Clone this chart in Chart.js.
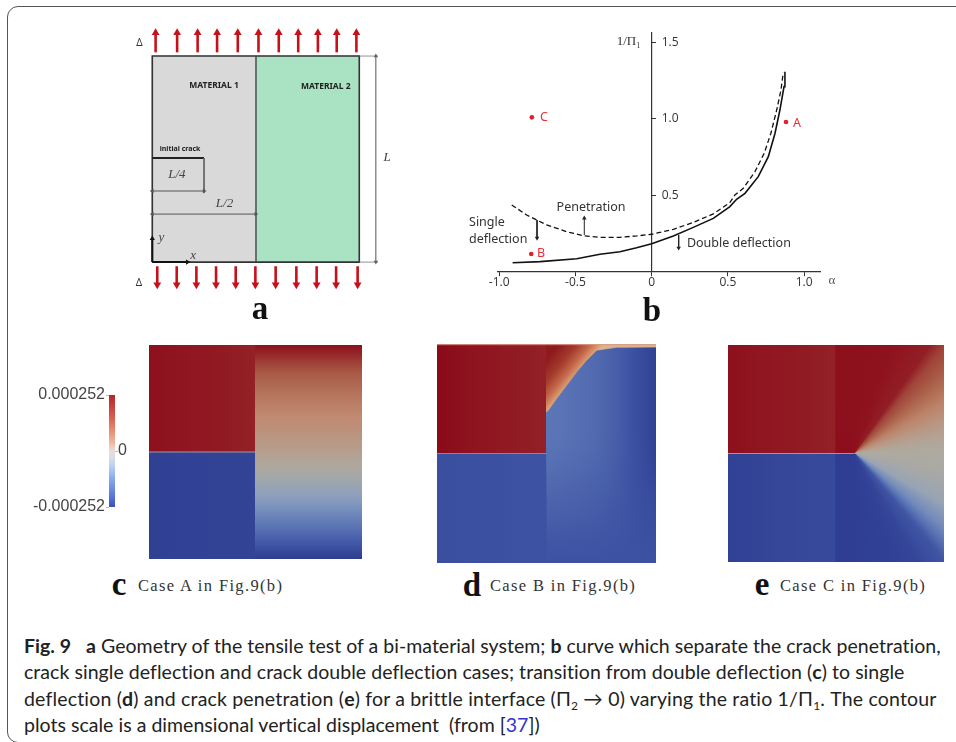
<!DOCTYPE html>
<html>
<head>
<meta charset="utf-8">
<title>Fig. 9</title>
<script src="https://cdn.jsdelivr.net/npm/chart.js@4"></script>
<style>
  html, body { margin: 0; padding: 0; background: #fff; }
  #page { position: relative; width: 956px; height: 742px; overflow: hidden; }
  #frame { position: absolute; left: 7px; top: 6px; width: 1000px; height: 735px; border: 1px solid #555; border-radius: 11px; }
  canvas { position: absolute; filter: blur(0.4px); }
  .letter { position: absolute; font: bold 33px "Liberation Serif", serif; color: #111; transform: translate(-50%, -50%); line-height: 1; }
  .case { position: absolute; font: 16.5px "Liberation Serif", serif; letter-spacing: 1.35px; color: #333; transform: translateY(-50%); white-space: nowrap; }
  .line { position: absolute; left: 24px; font: 19.5px Lato, sans-serif; color: #222; white-space: nowrap; transform: translateY(-50%); }
  .line sub { font-size: 12px; line-height: 0; }
  .link { color: #3434d0; }
</style>
</head>
<body>
<div id="page">
  <div id="frame"></div>

  <canvas id="geometry" style="left:120px;top:20px" width="290" height="280"></canvas>
  <canvas id="boundary" style="left:440px;top:20px" width="420" height="280"></canvas>
  <canvas id="colorbar" style="left:20px;top:380px" width="120" height="145"></canvas>
  <canvas id="caseA" style="left:149px;top:345px" width="213" height="214"></canvas>
  <canvas id="caseB" style="left:437px;top:344px" width="219" height="219"></canvas>
  <canvas id="caseC" style="left:728px;top:345px" width="216" height="217"></canvas>

  <div class="letter" style="left:260px;top:308px">a</div>
  <div class="letter" style="left:652px;top:310px">b</div>
  <div class="letter" style="left:119px;top:584px">c</div>
  <div class="case" style="left:138px;top:586px">Case A in Fig.9(b)</div>
  <div class="letter" style="left:472px;top:585px">d</div>
  <div class="case" style="left:490px;top:586px">Case B in Fig.9(b)</div>
  <div class="letter" style="left:762px;top:584px">e</div>
  <div class="case" style="left:780px;top:586px">Case C in Fig.9(b)</div>

  <div class="line" style="top:645px"><b>Fig. 9</b>&nbsp;&nbsp; <b>a</b> Geometry of the tensile test of a bi-material system; <b>b</b> curve which separate the crack penetration,</div>
  <div class="line" style="top:671px">crack single deflection and crack double deflection cases; transition from double deflection (<b>c</b>) to single</div>
  <div class="line" style="top:698px">deflection (<b>d</b>) and crack penetration (<b>e</b>) for a brittle interface (Π<sub>2</sub> → 0) varying the ratio 1/Π<sub>1</sub>. The contour</div>
  <div class="line" style="top:724px">plots scale is a dimensional vertical displacement &nbsp;(from [<span class="link">37</span>])</div>
</div>

<script>
// panel b: curves
const solidAlpha = [-.912, -.732, -.492, -.339, -.208, -.099, 0, .142, .273, .404, .513, .557, .612, .699, .765, .809, .841, .868, .874];
const solidPi = [.059, .066, .085, .114, .131, .157, .183, .234, .290, .349, .426, .474, .513, .622, .753, .906, 1.058, 1.211, 1.309];
const dashedAlpha = [-.918, -.820, -.689, -.558, -.448, -.339, -.208, -.099, 0, .142, .273, .404, .513, .546, .601, .677, .738, .782, .82, .848, .863];
const dashedPi = [.437, .371, .306, .262, .236, .225, .225, .234, .245, .277, .323, .378, .452, .502, .546, .654, .775, .906, 1.058, 1.189, 1.303];
const caseAlpha = [.881, -.79, -.786];
const casePi = [.98, .116, 1.01];
const alphaTicks = [-1, -.5, 0, .5, 1];
const piTicks = [.5, 1, 1.5];

// panel a: load arrows, in units of L
const topArrowX = [.016, .12, .219, .313, .413, .513, .611, .705, .8, .891, .986];
const bottomArrowX = [.024, .118, .213, .308, .403, .498, .596, .696, .794, .888, .992];

// colour bar
const barTicks = [-0.000252, 0.000252];
const barZeroTick = [0];
const barLevels = [1, .86, .72, .58, .44, .3, .16, .02, -.12, -.26, -.4, -.54, -.68, -.82, -1];

// contour fields, values scaled to the colour bar (-1 to 1)
const caseATopLeft = [.98, .97, .96, .95, .95, .94, .93, .92];
const caseABottomLeft = [-.96, -.96, -.95, -.95, -.94, -.94, -.94, -.93];
const caseARight = [.98, .9, .8, .72, .64, .57, .5, .44, .38, .32, .25, .18, .1, .02, -.07, -.16, -.26, -.36, -.46, -.56, -.66, -.77, -.88, -.98];

const caseBTopLeft = [1, .99, .97, .96, .95, .94, .93, .92];
const caseBBottomLeft = [-.86, -.86, -.85, -.85, -.85, -.84, -.84, -.84];
const caseBRightAcross = [-.6, -.61, -.63, -.65, -.68, -.72, -.77, -.84, -.9, -.95];
const caseBBottomLevel = -.84;
const caseBBottomShare = [0, 0, 0, 0, 0, 0, .05, .15, .3, .45, .6, .75, .9, 1];
const wedgeX = [.5, .508, .546, .592, .638, .683, .729, .82, 1, 1, .5];
const wedgeY = [.69, .698, .751, .812, .873, .926, .972, .985, .986, 1, 1];
const wedgeOffsets = [0, .08, .3, .6, 1];
const wedgeColors = ['#d9b58c', '#dc9e72', '#c4684a', '#a33a2c', '#8f1a1e'];

const caseCTopLeft = [.98, .97, .96, .95, .95, .94, .93, .92];
const caseCBottomLeft = [-.95, -.94, -.93, -.92, -.91, -.9, -.9, -.9];
const fanTip = [.587, .502];
// degrees clockwise from the crack direction behind the tip, with the level seen along that bearing
const fanBearing = [0, 90, 110, 125, 130, 140, 150, 160, 170, 180, 190, 200, 210, 220, 225, 230, 240, 250, 270, 360];
const fanLevels = [.99, .98, .97, .93, .8, .65, .45, .25, .08, 0, -.03, -.1, -.2, -.45, -.62, -.82, -.92, -.95, -.97, -.98];

// colours
const fieldStops = [[-1, '#2c3a8e'], [-.85, '#3c50a2'], [-.6, '#5b76b6'], [-.3, '#8ba0c0'], [0, '#aeaaa0'], [.4, '#c08a70'], [.72, '#a85a45'], [1, '#8b0a1a']];
const barStops = [[-1, '#3b4cc0'], [-.5, '#7fa5ec'], [-.2, '#c5d8f5'], [0, '#e8e4e0'], [.2, '#f0b090'], [.6, '#d9604f'], [1, '#b5242c']];

function mixRgb(stops, v) {
  let i = 1;
  while (i < stops.length - 1 && v > stops[i][0]) i++;
  const [v0, c0] = stops[i - 1], [v1, c1] = stops[i];
  const t = Math.min(1, Math.max(0, (v - v0) / (v1 - v0)));
  const ch = (c, n) => parseInt(c.substr(1 + n * 2, 2), 16);
  return [0, 1, 2].map(n => Math.round(ch(c0, n) + (ch(c1, n) - ch(c0, n)) * t));
}

function mix(stops, v, alpha) {
  const rgb = mixRgb(stops, v);
  return alpha === undefined ? `rgb(${rgb.join(',')})` : `rgba(${rgb.join(',')},${alpha})`;
}

function zip(xs, ys) {
  return xs.map((x, i) => ({ x: x, y: ys[i] }));
}

// gradient between two points given in the 0-1 units of a contour canvas
function sweep(id, x0, y0, x1, y1, offsets, colors) {
  const c = document.getElementById(id);
  const g = c.getContext('2d').createLinearGradient(x0 * c.width, (1 - y0) * c.height, x1 * c.width, (1 - y1) * c.height);
  colors.forEach((col, i) => g.addColorStop(offsets[i], col));
  return g;
}

function evenly(list) {
  return list.map((v, i) => i / (list.length - 1));
}

// filled polygon as a closed line dataset
function polygon(points, color) {
  return {
    data: points.concat([points[0]]),
    showLine: true, fill: 'shape', tension: 0, pointRadius: 0,
    backgroundColor: color, borderColor: color, borderWidth: 0.7
  };
}

function cell(x0, x1, y0, y1, color) {
  return polygon(zip([x0, x1, x1, x0], [y0, y0, y1, y1]), color);
}

function line(xs, ys, color, width, dash) {
  return {
    data: zip(xs, ys), showLine: true, fill: false, tension: 0, pointRadius: 0,
    borderColor: color, borderWidth: width, borderDash: dash || []
  };
}

// stem with a triangle at each end that has a size in heads
function arrow(xs, ys, color, width, heads, turns) {
  return {
    data: zip(xs, ys), showLine: true, fill: false, tension: 0,
    borderColor: color, borderWidth: width,
    pointStyle: 'triangle', pointRadius: heads, pointRotation: turns,
    pointBackgroundColor: color, pointBorderWidth: 0, pointBorderColor: color
  };
}

function inOrder(datasets) {
  // later datasets paint on top
  datasets.forEach((d, i) => { d.order = -i; });
  return datasets;
}

function textPlugin(items) {
  return {
    id: 'textMarks',
    afterDatasetsDraw(chart) {
      const ctx = chart.ctx;
      ctx.save();
      ctx.textBaseline = 'middle';
      items.forEach(t => {
        ctx.font = t.font;
        ctx.fillStyle = t.color || '#333';
        ctx.textAlign = t.align || 'center';
        ctx.fillText(t.text, chart.scales.x.getPixelForValue(t.x), chart.scales.y.getPixelForValue(t.y));
      });
      ctx.restore();
    }
  };
}

function hiddenAxis(min, max) {
  return { type: 'linear', display: false, min: min, max: max };
}

function plainChart(id, datasets, scales, plugins) {
  return new Chart(document.getElementById(id), {
    type: 'scatter',
    data: { datasets: inOrder(datasets) },
    options: {
      responsive: false, animation: false,
      layout: { padding: 0, autoPadding: false },
      plugins: { legend: { display: false }, tooltip: { enabled: false } },
      scales: scales
    },
    plugins: plugins || []
  });
}

// ----- panel a
const sans = '"Noto Sans", sans-serif';
const serifItalic = 'italic 13px "Liberation Serif", serif';
const geometryText = [
  { text: 'MATERIAL 1', x: .298, y: .859, font: 'bold 8.5px ' + sans, color: '#222' },
  { text: 'MATERIAL 2', x: .838, y: .854, font: 'bold 8.5px ' + sans, color: '#222' },
  { text: 'initial crack', x: .134, y: .549, font: 'bold 7px ' + sans, color: '#222' },
  { text: 'L/4', x: .119, y: .427, font: serifItalic, color: '#444' },
  { text: 'L/2', x: .349, y: .286, font: serifItalic, color: '#444' },
  { text: 'L', x: 1.134, y: .505, font: serifItalic, color: '#444' },
  { text: 'y', x: .044, y: .117, font: serifItalic, color: '#444' },
  { text: 'x', x: .197, y: .034, font: serifItalic, color: '#444' },
  { text: 'Δ', x: -.062, y: 1.063, font: '10px ' + sans, color: '#333' },
  { text: 'Δ', x: -.064, y: -.102, font: '10px ' + sans, color: '#333' }
];
const red = '#c8101a', dim = '#555';
const geometrySets = [
  cell(0, .501, 0, 1, '#d9d9d9'),
  cell(.501, 1, 0, 1, '#aae3c3'),
  line([0, 1, 1, 0, 0], [0, 0, 1, 1, 0], '#333', 1.6),
  line([.501, .501], [0, 1], '#444', 1.4),
  line([0, .25], [.505, .505], '#222', 2),
  line([.25, .25], [.505, .335], '#666', 1),
  arrow([0, .25], [.345, .345], dim, 1, [2.5, 2.5], [270, 90]),
  arrow([0, .5], [.233, .233], dim, 1, [2.5, 2.5], [270, 90]),
  arrow([1.08, 1.08], [0, 1], dim, 1, [2.5, 2.5], [180, 0]),
  line([1, 1.09], [1, 1], '#777', .8),
  line([1, 1.09], [0, 0], '#777', .8),
  arrow([0, .17], [0, 0], '#111', 2, [0, 3], [0, 90]),
  arrow([0, 0], [0, .115], '#111', 2, [0, 3], [0, 0])
];
topArrowX.forEach(x => geometrySets.push(arrow([x, x], [1.018, 1.113], red, 2.6, [0, 4.5], [0, 0])));
bottomArrowX.forEach(x => geometrySets.push(arrow([x, x], [-.02, -.11], red, 2.6, [0, 4.5], [0, 180])));
plainChart('geometry', geometrySets,
  { x: hiddenAxis(-.156, 1.245), y: hiddenAxis(-.184, 1.175) },
  [textPlugin(geometryText)]);

// ----- panel b
const boundaryText = [
  { text: 'Penetration', x: -.398, y: .421, font: '12.5px ' + sans },
  { text: 'Single', x: -1.198, y: .325, font: '12.5px ' + sans, align: 'left' },
  { text: 'deflection', x: -1.198, y: .214, font: '12.5px ' + sans, align: 'left' },
  { text: 'Double deflection', x: .231, y: .188, font: '12.5px ' + sans, align: 'left' },
  { text: 'C', x: -.706, y: 1.012, font: '12.5px ' + sans, color: '#e8303a' },
  { text: 'A', x: .953, y: .967, font: '12.5px ' + sans, color: '#e8303a' },
  { text: 'B', x: -.726, y: .122, font: '12.5px ' + sans, color: '#e8303a' },
  { text: '1/Π₁', x: -.151, y: 1.505, font: '13px "Liberation Serif", serif' },
  { text: 'α', x: 1.182, y: -.061, font: '13px "Liberation Serif", serif', color: '#555' }
];
// the axis can only put its labels left of a centred spine, these sit on the right
piTicks.forEach(v => boundaryText.push({ text: v.toFixed(1), x: .066, y: v, font: '12px "Open Sans"', align: 'left' }));
new Chart(document.getElementById('boundary'), {
  type: 'scatter',
  data: {
    datasets: inOrder([
      line(solidAlpha, solidPi, '#111', 1.6),
      line(dashedAlpha, dashedPi, '#111', 1.3, [5, 3]),
      arrow([-.752, -.752], [.338, .22], '#222', 1, [0, 2.6], [0, 180]),
      arrow([-.442, -.442], [.24, .35], '#222', 1, [0, 2.6], [0, 0]),
      arrow([.177, .177], [.24, .155], '#222', 1, [0, 2.6], [0, 180]),
      { data: zip(caseAlpha, casePi), pointRadius: 2.3, pointBackgroundColor: '#e0202c', pointBorderWidth: 0 }
    ])
  },
  options: {
    responsive: false, animation: false,
    layout: { padding: { left: 58, right: 40, top: 12.7, bottom: 28.3 }, autoPadding: false },
    plugins: { legend: { display: false }, tooltip: { enabled: false } },
    scales: {
      x: {
        type: 'linear', min: -1.008, max: 1.104, position: { y: 0 },
        afterFit: s => { s.height = 0; },
        afterBuildTicks: s => { s.ticks = alphaTicks.map(v => ({ value: v })); },
        grid: { drawOnChartArea: false, tickLength: 4, color: '#333' },
        border: { color: '#333', width: 1.2 },
        ticks: {
          autoSkip: false, maxRotation: 0, padding: 0, color: '#333',
          font: { family: 'Open Sans', size: 12 },
          callback: v => v === 0 ? '0' : v.toFixed(1)
        }
      },
      y: {
        type: 'linear', min: 0, max: 1.564, position: { x: 0 },
        afterFit: s => { s.width = 0; },
        afterBuildTicks: s => { s.ticks = piTicks.map(v => ({ value: v })); },
        grid: { drawOnChartArea: false, tickLength: -5, color: '#333' },
        border: { color: '#333', width: 1.2 },
        ticks: { callback: () => '' }
      }
    }
  },
  plugins: [textPlugin(boundaryText)]
});

// ----- colour bar
const barCtx = document.getElementById('colorbar').getContext('2d');
const barFill = barCtx.createLinearGradient(0, 15, 0, 127);
barLevels.forEach((v, i) => barFill.addColorStop(i / (barLevels.length - 1), mix(barStops, v)));
const barTickFont = { family: 'Liberation Sans', size: 16 };
new Chart(document.getElementById('colorbar'), {
  type: 'scatter',
  data: { datasets: [cell(0, 1, -0.000252, 0.000252, barFill)] },
  options: {
    responsive: false, animation: false,
    layout: { padding: { top: 15, bottom: 18 }, autoPadding: false },
    plugins: { legend: { display: false }, tooltip: { enabled: false } },
    scales: {
      x: { type: 'linear', display: false, min: 0, max: 1 },
      y: {
        type: 'linear', position: 'left', min: -0.000252, max: 0.000252,
        afterFit: s => { s.width = 89; },
        afterBuildTicks: s => { s.ticks = barTicks.map(v => ({ value: v })); },
        grid: { drawOnChartArea: false, tickLength: 3, color: '#bbb' },
        border: { display: false },
        ticks: { padding: 1, color: '#444', font: barTickFont, callback: v => v.toString() }
      },
      y2: {
        type: 'linear', position: 'right', min: -0.000252, max: 0.000252,
        afterFit: s => { s.width = 25; },
        afterBuildTicks: s => { s.ticks = barZeroTick.map(v => ({ value: v })); },
        grid: { drawOnChartArea: false, tickLength: 3, color: '#bbb' },
        border: { display: false },
        ticks: { padding: 0, color: '#444', font: barTickFont, callback: v => v.toString() }
      }
    }
  }
});

// ----- contour panels
const unitScales = () => ({ x: hiddenAxis(0, 1), y: hiddenAxis(0, 1) });
const fieldColor = v => mix(fieldStops, v);

function leftBlocks(id, top, bottom) {
  return [
    cell(0, .5, .5, 1, sweep(id, 0, 0, .5, 0, evenly(top), top.map(fieldColor))),
    cell(0, .5, 0, .5, sweep(id, 0, 0, .5, 0, evenly(bottom), bottom.map(fieldColor)))
  ];
}

// case A
const caseASets = leftBlocks('caseA', caseATopLeft, caseABottomLeft);
caseASets.push(cell(.5, 1, 0, 1, sweep('caseA', 0, 1, 0, 0, evenly(caseARight), caseARight.map(fieldColor))));
caseASets.push(line([0, .5], [.5, .5], '#c8a8a8', .8));
plainChart('caseA', caseASets, unitScales());

// case B
const caseBSets = leftBlocks('caseB', caseBTopLeft, caseBBottomLeft);
caseBSets.push(cell(.5, 1, 0, 1, sweep('caseB', .5, 0, 1, 0, evenly(caseBRightAcross), caseBRightAcross.map(fieldColor))));
caseBSets.push(cell(.5, 1, 0, 1, sweep('caseB', 0, 1, 0, 0, evenly(caseBBottomShare), caseBBottomShare.map(a => mix(fieldStops, caseBBottomLevel, a)))));
caseBSets.push(polygon(zip(wedgeX, wedgeY), sweep('caseB', .6, .8, .477, .9, wedgeOffsets, wedgeColors)));
caseBSets.push(line([0, .5], [.5, .5], '#c9857a', .8));
caseBSets.push(line([0, 1], [.997, .997], '#dc9a88', 1));
plainChart('caseB', caseBSets, unitScales());

// case C
const caseCCanvas = document.getElementById('caseC');
const fanFill = caseCCanvas.getContext('2d').createConicGradient(-Math.PI, fanTip[0] * caseCCanvas.width, (1 - fanTip[1]) * caseCCanvas.height);
fanBearing.forEach((b, i) => fanFill.addColorStop(b / 360, fieldColor(fanLevels[i])));
const caseCSets = leftBlocks('caseC', caseCTopLeft, caseCBottomLeft);
caseCSets.push(cell(.5, 1, 0, 1, fanFill));
caseCSets.push(line([0, .587], [.5, .5], '#c9a79b', .8));
plainChart('caseC', caseCSets, unitScales());

// caption lines stretched to the measured line widths
const captionWidths = [917, 882, 913, 516];
document.querySelectorAll('.line').forEach((el, i) => {
  const extra = captionWidths[i] - el.getBoundingClientRect().width;
  el.style.letterSpacing = (extra / el.textContent.length) + 'px';
});
</script>
</body>
</html>
